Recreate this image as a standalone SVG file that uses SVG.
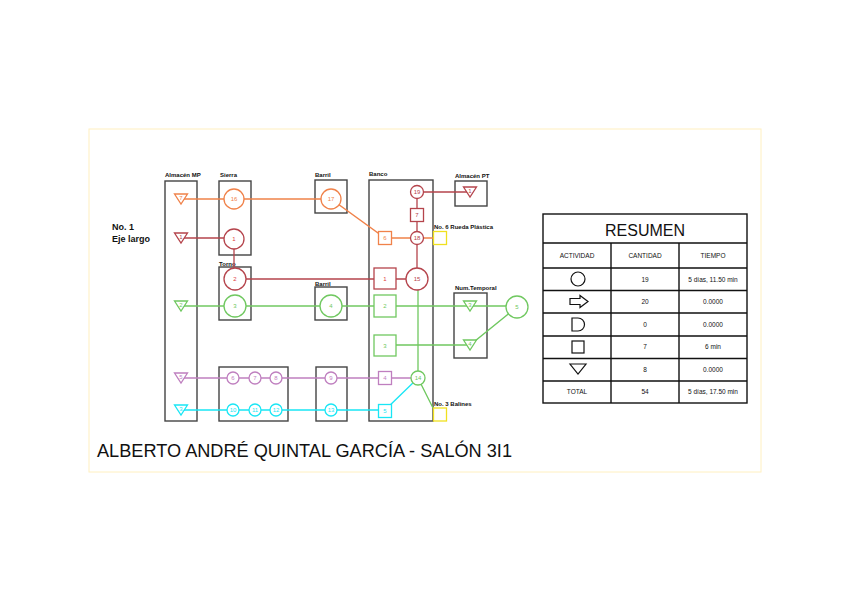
<svg xmlns="http://www.w3.org/2000/svg" width="848" height="599" viewBox="0 0 848 599">
<style>
.box{fill:none;stroke:#444;stroke-width:1.4}
.lbl{font-family:"Liberation Sans",Arial,sans-serif;font-size:6px;font-weight:bold;fill:#111}
.num{font-family:"Liberation Sans",Arial,sans-serif;font-size:6px;text-anchor:middle;dominant-baseline:central}
.o{stroke:#f0824a;fill:#fff;stroke-width:1.3}
.m{stroke:#b5444c;fill:#fff;stroke-width:1.3}
.g{stroke:#70c860;fill:#fff;stroke-width:1.3}
.p{stroke:#bf7fbf;fill:#fff;stroke-width:1.3}
.c{stroke:#19e6f5;fill:#fff;stroke-width:1.3}
.y{stroke:#f0e020;fill:#fff;stroke-width:1.3}
.to{fill:#f0824a}.tm{fill:#b5444c}.tr{fill:#e03c3c}.tg{fill:#70c860}.tp{fill:#bf7fbf}.tc{fill:#19e6f5}
.ln{fill:none;stroke-width:1.3}
.tb{fill:none;stroke:#111;stroke-width:1.4}
.tt{font-family:"Liberation Sans",Arial,sans-serif;font-size:6.5px;text-anchor:middle;fill:#111}
.sym{fill:#fff;stroke:#111;stroke-width:1.2}
</style>
<rect x="0" y="0" width="848" height="599" fill="#fff"/>
<rect x="89" y="129" width="672" height="343" fill="none" stroke="#fff0c0" stroke-width="1"/>

<g id="boxes">
<g id="almacen-mp"><rect class="box" x="165" y="181" width="32" height="240"/><text class="lbl" x="165" y="177">Almacén MP</text></g>
<g id="sierra"><rect class="box" x="219" y="181" width="32" height="74"/><text class="lbl" x="220" y="177">Sierra</text></g>
<g id="torno"><rect class="box" x="219" y="267" width="32" height="53"/><text class="lbl" x="219" y="266">Torno</text></g>
<g id="barril1"><rect class="box" x="315" y="180" width="32" height="33"/><text class="lbl" x="315" y="177">Barril</text></g>
<g id="barril2"><rect class="box" x="315" y="287" width="32" height="33"/><text class="lbl" x="315" y="286">Barril</text></g>
<g id="box678"><rect class="box" x="219" y="367" width="69" height="54"/></g>
<g id="barril3"><rect class="box" x="316" y="367" width="31" height="54"/></g>
<g id="banco"><rect class="box" x="369" y="180" width="64" height="241"/><text class="lbl" x="369" y="176">Banco</text></g>
<g id="almacen-pt"><rect class="box" x="455" y="181" width="32" height="25"/><text class="lbl" x="455" y="178">Almacén PT</text></g>
<g id="num-temporal"><rect class="box" x="454" y="293" width="33" height="65"/><text class="lbl" x="455" y="290">Num.Temporal</text></g>
</g>

<g id="texts">
<text class="lbl" x="112" y="230" style="font-size:9px">No. 1</text>
<text class="lbl" x="112" y="242" style="font-size:9px">Eje largo</text>
<text class="lbl" x="434" y="229">No. 6 Rueda Plástica</text>
<text class="lbl" x="434" y="406">No. 3 Balines</text>
<text x="97" y="457" font-family="'Liberation Sans',Arial,sans-serif" font-size="18" textLength="415" lengthAdjust="spacingAndGlyphs" fill="#111">ALBERTO ANDRÉ QUINTAL GARCÍA - SALÓN 3I1</text>
</g>

<g id="connectors">
<path class="ln" stroke="#f0824a" d="M181,199 H331 L385,238 H433"/>
<path class="ln" stroke="#b5444c" d="M181,238 H234 V279 H417"/>
<path class="ln" stroke="#b5444c" d="M470,192 H417 V279"/>
<path class="ln" stroke="#70c860" d="M181,306 H517"/>
<path class="ln" stroke="#70c860" d="M385,345 H470 L517,307"/>
<path class="ln" stroke="#70c860" d="M418,279 V378 L433,408"/>
<path class="ln" stroke="#bf7fbf" d="M181,378 H418"/>
<path class="ln" stroke="#19e6f5" d="M181,410 H385 L418,378"/>
</g>

<g id="n-t7"><path class="o" d="M174.5,194 h13 l-6.5,10 z"/><text class="num to" x="181" y="197.5">7</text></g>
<g id="n-t1"><path class="m" d="M174.5,233 h13 l-6.5,10 z"/><text class="num tm" x="181" y="236.5">1</text></g>
<g id="n-t2"><path class="g" d="M174.5,301 h13 l-6.5,10 z"/><text class="num tg" x="181" y="304.5">2</text></g>
<g id="n-t5"><path class="p" d="M174.5,373 h13 l-6.5,10 z"/><text class="num tp" x="181" y="376.5">5</text></g>
<g id="n-t3c"><path class="c" d="M174.5,405 h13 l-6.5,10 z"/><text class="num tc" x="181" y="408.5">3</text></g>
<g id="n-pt1"><path class="m" d="M463.5,187 h13 l-6.5,10 z"/><text class="num tm" x="470" y="190.5">1</text></g>
<g id="n-nt3"><path class="g" d="M463.5,301 h13 l-6.5,10 z"/><text class="num tg" x="470" y="304.5">3</text></g>
<g id="n-nt4"><path class="g" d="M463.5,340 h13 l-6.5,10 z"/><text class="num tg" x="470" y="343.5">4</text></g>

<g id="n-c16"><circle class="o" cx="234" cy="199" r="10"/><text class="num to" x="234" y="199">16</text></g>
<g id="n-c17"><circle class="o" cx="331" cy="199" r="10"/><text class="num to" x="331" y="199">17</text></g>
<g id="n-c1"><circle class="m" cx="234" cy="239" r="10"/><text class="num tr" x="234" y="239">1</text></g>
<g id="n-c2"><circle class="m" cx="235" cy="279" r="11"/><text class="num tr" x="235" y="279">2</text></g>
<g id="n-c3"><circle class="g" cx="235" cy="306" r="11"/><text class="num tg" x="235" y="306">3</text></g>
<g id="n-c4"><circle class="g" cx="331" cy="306" r="11"/><text class="num tg" x="331" y="306">4</text></g>
<g id="n-c15"><circle class="m" cx="417" cy="279" r="11"/><text class="num tm" x="417" y="279">15</text></g>
<g id="n-c5"><circle class="g" cx="517" cy="307" r="11"/><text class="num tg" x="517" y="307">5</text></g>
<g id="n-c19"><circle class="m" cx="417" cy="192" r="6.5"/><text class="num tm" x="417" y="192">19</text></g>
<g id="n-c18"><circle class="m" cx="417" cy="238" r="6.5"/><text class="num tm" x="417" y="238">18</text></g>
<g id="n-c14"><circle class="g" cx="418" cy="378" r="7"/><text class="num tg" x="418" y="378">14</text></g>
<g id="n-c6"><circle class="p" cx="233" cy="378" r="6"/><text class="num tp" x="233" y="378">6</text></g>
<g id="n-c7"><circle class="p" cx="255" cy="378" r="6"/><text class="num tp" x="255" y="378">7</text></g>
<g id="n-c8"><circle class="p" cx="276" cy="378" r="6"/><text class="num tp" x="276" y="378">8</text></g>
<g id="n-c9"><circle class="p" cx="331" cy="378" r="6"/><text class="num tp" x="331" y="378">9</text></g>
<g id="n-c10"><circle class="c" cx="233" cy="410" r="6"/><text class="num tc" x="233" y="410">10</text></g>
<g id="n-c11"><circle class="c" cx="255" cy="410" r="6"/><text class="num tc" x="255" y="410">11</text></g>
<g id="n-c12"><circle class="c" cx="276" cy="410" r="6"/><text class="num tc" x="276" y="410">12</text></g>
<g id="n-c13"><circle class="c" cx="331" cy="410" r="6"/><text class="num tc" x="331" y="410">13</text></g>

<g id="n-s6"><rect class="o" x="378.5" y="231.5" width="13" height="13"/><text class="num to" x="385" y="238">6</text></g>
<g id="n-s7"><rect class="m" x="410.5" y="208.5" width="13" height="13"/><text class="num tm" x="417" y="215">7</text></g>
<g id="n-s1"><rect class="m" x="374" y="268" width="22" height="21"/><text class="num tr" x="385" y="278.5">1</text></g>
<g id="n-s2"><rect class="g" x="374" y="295" width="22" height="22"/><text class="num tg" x="385" y="306">2</text></g>
<g id="n-s3"><rect class="g" x="374" y="335" width="22" height="21"/><text class="num tg" x="385" y="345.5">3</text></g>
<g id="n-s4"><rect class="p" x="378.5" y="371.5" width="13" height="13"/><text class="num tp" x="385" y="378">4</text></g>
<g id="n-s5"><rect class="c" x="378.5" y="404.5" width="13" height="13"/><text class="num tc" x="385" y="411">5</text></g>
<g id="n-y6"><rect class="y" x="433.5" y="231.5" width="13" height="13"/></g>
<g id="n-y3"><rect class="y" x="433.5" y="408" width="13" height="13"/></g>

<g id="resumen">
<rect class="tb" x="543" y="214" width="204" height="189"/>
<path class="tb" d="M543,243 H747 M543,268 H747 M543,290.5 H747 M543,313 H747 M543,336 H747 M543,358.5 H747 M543,381 H747 M611,243 V403 M679,243 V403"/>
<text x="645" y="236" font-family="'Liberation Sans',Arial,sans-serif" font-size="16" text-anchor="middle" fill="#111">RESUMEN</text>
<text class="tt" x="577" y="258">ACTIVIDAD</text>
<text class="tt" x="645" y="258">CANTIDAD</text>
<text class="tt" x="713" y="258">TIEMPO</text>
<circle class="sym" cx="578" cy="279" r="7"/>
<path class="sym" d="M570,298.5 h10 v-3 l8,6 l-8,6 v-3 h-10 z"/>
<path class="sym" d="M572,318 h6 a6.5,6.5 0 0 1 0,13 h-6 z"/>
<rect class="sym" x="572" y="341" width="12" height="12"/>
<path class="sym" d="M570,364 h16 l-8,10 z"/>
<text class="tt" x="645" y="281.5">19</text><text class="tt" x="713" y="281.5">5 días, 11.50 min</text>
<text class="tt" x="645" y="304">20</text><text class="tt" x="713" y="304">0.0000</text>
<text class="tt" x="645" y="326.5">0</text><text class="tt" x="713" y="326.5">0.0000</text>
<text class="tt" x="645" y="349">7</text><text class="tt" x="713" y="349">6 min</text>
<text class="tt" x="645" y="371.5">8</text><text class="tt" x="713" y="371.5">0.0000</text>
<text class="tt" x="577" y="394">TOTAL</text><text class="tt" x="645" y="394">54</text><text class="tt" x="713" y="394">5 días, 17.50 min</text>
</g>
</svg>
